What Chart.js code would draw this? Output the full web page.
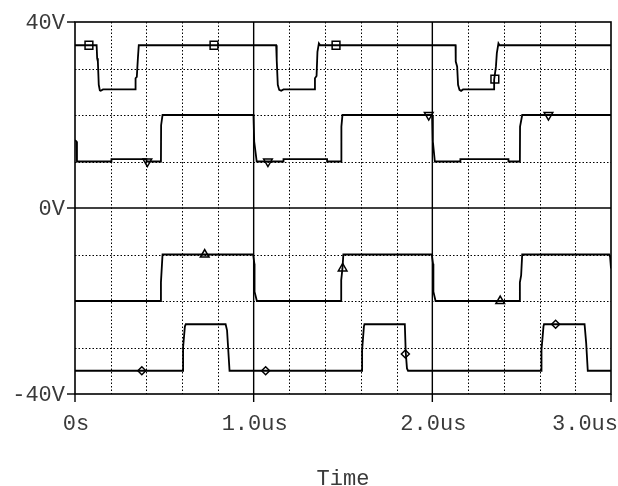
<!DOCTYPE html>
<html>
<head>
<meta charset="utf-8">
<script src="https://cdn.jsdelivr.net/npm/chart.js@4"></script>
<style>
  html, body { margin: 0; padding: 0; background: #fff; }
  canvas { display: block; }
</style>
</head>
<body>
<canvas id="scope" width="618" height="486"></canvas>
<script>
// time in us, voltage in V

// trace with square markers (35V / 25.5V)
const squareT = [0, 0.121, 0.124, 0.128, 0.133, 0.139, 0.144, 0.157, 0.339, 0.339, 0.346, 0.352, 0.357,
    1.126, 1.129, 1.135, 1.143, 1.154, 1.167, 1.343, 1.343, 1.352, 1.357, 1.365, 1.372,
    2.13, 2.131, 2.139, 2.144, 2.152, 2.161, 2.172, 2.346, 2.346, 2.356, 2.361, 2.37, 2.376, 3.0];
const squareV = [35, 35, 32.2, 31.5, 26.5, 25.3, 25.2, 25.5, 25.5, 27.9, 28.2, 32.2, 35,
    35, 31.8, 26.5, 25.4, 25.2, 25.5, 25.5, 27.9, 28.4, 33.6, 35.4, 35,
    35, 31.5, 30.4, 26.5, 25.4, 25.2, 25.5, 25.5, 27.6, 30.4, 33.3, 35.4, 35, 35];

// trace with down-triangle markers (20V / 10V)
const triDownT = [0, 0.008, 0.011, 0.204, 0.204, 0.4, 0.4, 0.481, 0.482, 0.49,
    0.999, 1.003, 1.017, 1.167, 1.167, 1.411, 1.411, 1.49, 1.491, 1.497,
    1.999, 2.003, 2.014, 2.157, 2.157, 2.426, 2.426, 2.49, 2.491, 2.503, 3.0];
const triDownV = [14.6, 14.3, 10, 10, 10.5, 10.5, 10, 10, 17.8, 20,
    20, 14.3, 10, 10, 10.5, 10.5, 10, 10, 17.5, 20,
    20, 14.3, 10, 10, 10.5, 10.5, 10, 10, 17.5, 20, 20];

// trace with up-triangle markers (-10V / -20V)
const triUpT = [0, 0.481, 0.481, 0.49, 0.997, 1.004, 1.005, 1.018, 1.49, 1.49, 1.497, 1.502,
    1.997, 2.004, 2.006, 2.018, 2.49, 2.49, 2.497, 2.503, 2.99, 2.995, 3.0];
const triUpV = [-20, -20, -16, -10, -10, -12, -18, -20, -20, -15.5, -13, -10,
    -10, -12, -18, -20, -20, -16, -14.5, -10, -10, -10.5, -13];

// trace with diamond markers (-25V / -35V)
const diamondT = [0, 0.605, 0.605, 0.615, 0.62, 0.843, 0.851, 0.865,
    1.607, 1.607, 1.617, 1.62, 1.846, 1.851, 1.858, 1.864,
    2.611, 2.611, 2.622, 2.625, 2.852, 2.861, 2.87, 3.0];
const diamondV = [-35, -35, -30, -25.5, -25, -25, -26.3, -35,
    -35, -30.5, -25.5, -25, -25, -31, -34.5, -35,
    -35, -30.5, -25.5, -25, -25, -29, -35, -35];

// marker positions
const squareMarkT = [0.078, 0.778, 1.461, 2.35];
const squareMarkV = [35, 35, 35, 27.7];
const triDownMarkT = [0.405, 1.08, 1.98, 2.65];
const triDownMarkV = [10, 10, 20, 20];
const triUpMarkT = [0.726, 1.498, 2.38];
const triUpMarkV = [-10, -13, -20];
const diamondMarkT = [0.374, 1.067, 1.849, 2.69];
const diamondMarkV = [-35, -35, -31.4, -25];

// axes
const xTicks = [0, 1, 2, 3];
const xTickLabels = ['0s', '1.0us', '2.0us', '3.0us'];
const yTicks = [40, 0, -40];
const yTickLabels = ['40V', '0V', '-40V'];

const FONT = '22px "Liberation Mono", "Courier New", monospace';
const TEXT = '#3a3a3a';

function pts(ts, vs) {
    return ts.map((t, i) => ({ x: t, y: vs[i] }));
}

function trace(ts, vs) {
    return {
        data: pts(ts, vs),
        showLine: true,
        borderColor: '#000',
        borderWidth: 1.8,
        pointRadius: 0,
        tension: 0
    };
}

function markers(ts, vs, style, radius, rotation) {
    return {
        data: pts(ts, vs),
        showLine: false,
        pointStyle: style,
        pointRadius: radius,
        pointRotation: rotation || 0,
        pointBorderColor: '#000',
        pointBorderWidth: 1.5,
        pointBackgroundColor: 'rgba(0,0,0,0)'
    };
}

const scopePlugin = {
    id: 'scope',
    beforeDatasetsDraw(chart) {
        const { ctx, chartArea: a, scales: { x, y } } = chart;
        ctx.save();
        ctx.strokeStyle = '#000';

        // dotted minor grid
        ctx.lineWidth = 1;
        ctx.setLineDash([1.5, 2]);
        for (let t = 0.2; t < 2.95; t += 0.2) {
            if (Math.abs(t - Math.round(t)) < 1e-6) continue;
            const px = Math.round(x.getPixelForValue(t)) + 0.5;
            ctx.beginPath();
            ctx.moveTo(px, a.top);
            ctx.lineTo(px, a.bottom);
            ctx.stroke();
        }
        for (let v = -30; v <= 30; v += 10) {
            if (v === 0) continue;
            const py = Math.round(y.getPixelForValue(v)) + 0.5;
            ctx.beginPath();
            ctx.moveTo(a.left, py);
            ctx.lineTo(a.right, py);
            ctx.stroke();
        }

        // solid major grid
        ctx.setLineDash([]);
        ctx.lineWidth = 1.4;
        [1, 2].forEach(t => {
            const px = x.getPixelForValue(t);
            ctx.beginPath();
            ctx.moveTo(px, a.top);
            ctx.lineTo(px, a.bottom);
            ctx.stroke();
        });
        const y0 = y.getPixelForValue(0);
        ctx.beginPath();
        ctx.moveTo(a.left, y0);
        ctx.lineTo(a.right, y0);
        ctx.stroke();
        ctx.restore();
    },
    afterDraw(chart) {
        const { ctx, chartArea: a, scales: { x, y } } = chart;
        ctx.save();
        ctx.strokeStyle = '#000';
        ctx.lineWidth = 1.6;
        ctx.strokeRect(a.left, a.top, a.right - a.left, a.bottom - a.top);

        ctx.font = FONT;
        ctx.fillStyle = TEXT;

        // y ticks
        ctx.lineWidth = 1.4;
        ctx.textAlign = 'right';
        ctx.textBaseline = 'alphabetic';
        yTicks.forEach((v, i) => {
            const py = y.getPixelForValue(v);
            ctx.beginPath();
            ctx.moveTo(a.left - 8, py);
            ctx.lineTo(a.left, py);
            ctx.stroke();
            ctx.fillText(yTickLabels[i], a.left - 10, py + 7);
        });

        // x ticks
        xTicks.forEach((t, i) => {
            const px = x.getPixelForValue(t);
            ctx.beginPath();
            ctx.moveTo(px, a.bottom);
            ctx.lineTo(px, a.bottom + 8);
            ctx.stroke();
            const last = i === xTicks.length - 1;
            ctx.textAlign = last ? 'right' : 'center';
            ctx.fillText(xTickLabels[i], last ? chart.width : px + 1, a.bottom + 36);
        });

        ctx.textAlign = 'center';
        ctx.fillText('Time', (a.left + a.right) / 2, 485);
        ctx.restore();
    }
};

new Chart(document.getElementById('scope'), {
    type: 'scatter',
    data: {
        datasets: [
            trace(squareT, squareV),
            trace(triDownT, triDownV),
            trace(triUpT, triUpV),
            trace(diamondT, diamondV),
            markers(squareMarkT, squareMarkV, 'rect', 5.5),
            markers(triDownMarkT, triDownMarkV, 'triangle', 5, 180),
            markers(triUpMarkT, triUpMarkV, 'triangle', 5),
            markers(diamondMarkT, diamondMarkV, 'rectRot', 4)
        ]
    },
    options: {
        responsive: false,
        animation: false,
        events: [],
        layout: { padding: { left: 75, right: 2, top: 22, bottom: 92 } },
        plugins: { legend: { display: false }, tooltip: { enabled: false } },
        scales: {
            x: { type: 'linear', min: 0, max: 3, display: false },
            y: { type: 'linear', min: -40, max: 40, display: false }
        }
    },
    plugins: [scopePlugin]
});
</script>
</body>
</html>
